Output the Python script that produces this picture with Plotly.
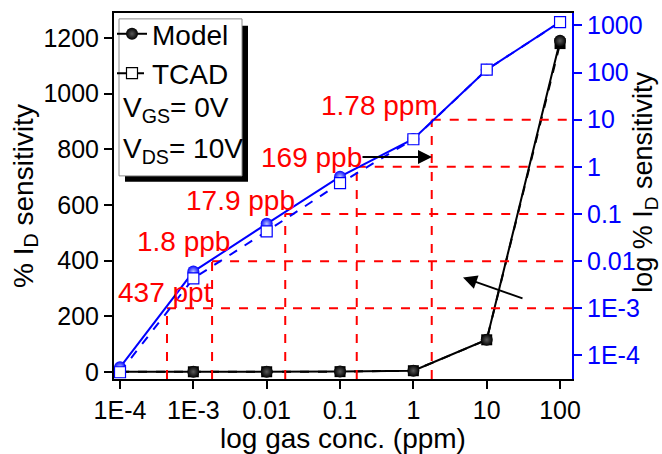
import plotly.graph_objects as go

# ---------------- data ----------------
conc = [1e-4, 1e-3, 1e-2, 1e-1, 1, 10, 100]                  # gas conc. (ppm)
model_sens = [5.6e-5, 6.0e-3, 0.062, 0.62, 3.9, 115, 1190]     # % ID sensitivity (Model)
tcad_sens = [4.4e-5, 4.3e-3, 0.043, 0.45, 3.85, 115, 1180]     # % ID sensitivity (TCAD)

lod_conc = [4.37e-4, 1.8e-3, 1.79e-2, 0.169, 1.78]            # detection limits (ppm)
lod_level = [1e-3, 1e-2, 0.1, 1, 10]                           # sensitivity level (log axis)
lod_labels = ["437 ppt", "1.8 ppb", "17.9 ppb", "169 ppb", "1.78 ppm"]

x_tickvals = [1e-4, 1e-3, 1e-2, 1e-1, 1, 10, 100]
x_ticktext = ["1E-4", "1E-3", "0.01", "0.1", "1", "10", "100"]
y_tickvals = [0, 200, 400, 600, 800, 1000, 1200]
y2_tickvals = [1e-4, 1e-3, 1e-2, 1e-1, 1, 10, 100, 1000]
y2_ticktext = ["1E-4", "1E-3", "0.01", "0.1", "1", "10", "100", "1000"]

# ---------------- layout constants ----------------
W, H = 662, 454
ML, MR, MT, MB = 114, 90, 9, 72
PW, PH = W - ML - MR, H - MT - MB
X_RANGE = [-4.082, 2.163]
Y_RANGE = [-26, 1290]
Y2_RANGE = [-4.5, 3.264]
FONT = "Liberation Sans, Arial, sans-serif"
RED = "#ff0000"
BLUE = "#0000ff"


def px(x):
    return (x - ML) / PW


def py(y):
    return (H - MB - y) / PH


fig = go.Figure()

# red dashed detection-limit guides (on log y axis)
hx, hy, vx, vy = [], [], [], []
for c, lv in zip(lod_conc, lod_level):
    hx += [c, 10 ** X_RANGE[1], None]
    hy += [lv, lv, None]
    vx += [c, c, None]
    vy += [10 ** Y2_RANGE[0], lv, None]
fig.add_trace(go.Scatter(x=hx + vx, y=hy + vy, mode="lines", yaxis="y2",
                         line=dict(color=RED, width=2, dash="dash"),
                         showlegend=False, hoverinfo="skip", connectgaps=False))

sphere_black = dict(symbol="circle", size=12, color="black",
                    gradient=dict(type="radial", color="#5a5a5a"),
                    line=dict(width=0))
sphere_blue = dict(symbol="circle", size=12, color=BLUE,
                   gradient=dict(type="radial", color="#b8c4ff"),
                   line=dict(width=0))
square_blue = dict(symbol="square", size=11, color="white",
                   line=dict(color=BLUE, width=1.2))
square_black = dict(symbol="square", size=11, color="white",
                    line=dict(color="black", width=1.2))

# linear axis (black)
fig.add_trace(go.Scatter(x=conc, y=tcad_sens, mode="lines+markers",
                         line=dict(color="black", width=2, dash="dash"),
                         marker=dict(symbol="square", size=11, color="black"),
                         showlegend=False))
fig.add_trace(go.Scatter(x=conc, y=model_sens, mode="lines+markers",
                         line=dict(color="black", width=2),
                         marker=sphere_black, showlegend=False))

# log axis (blue)
fig.add_trace(go.Scatter(x=conc, y=model_sens, mode="lines+markers", yaxis="y2",
                         line=dict(color=BLUE, width=2),
                         marker=sphere_blue, showlegend=False))
fig.add_trace(go.Scatter(x=conc, y=tcad_sens, mode="lines+markers", yaxis="y2",
                         line=dict(color=BLUE, width=2, dash="dash"),
                         marker=square_blue, showlegend=False))

# legend entries
fig.add_trace(go.Scatter(x=[None], y=[None], mode="lines+markers", name="Model",
                         line=dict(color="black", width=2), marker=sphere_black))
fig.add_trace(go.Scatter(x=[None], y=[None], mode="lines+markers", name="TCAD",
                         line=dict(color="black", width=2, dash="dash"),
                         marker=square_black))

annotations = []
# red labels (pixel centres)
label_pos = [(165, 294), (183, 242), (240, 200), (311, 156), (379, 103)]
for t, (lx, ly) in zip(lod_labels, label_pos):
    annotations.append(dict(text=t, x=px(lx), y=py(ly), xref="paper", yref="paper",
                            showarrow=False, xanchor="center", yanchor="middle",
                            font=dict(color=RED, size=28, family=FONT)))

# arrows
annotations.append(dict(text="", x=px(432), y=py(155.7), xref="paper", yref="paper",
                        ax=-71, ay=0, showarrow=True, arrowhead=2, arrowsize=1.4,
                        arrowwidth=2, arrowcolor="black"))
annotations.append(dict(text="", x=px(463), y=py(278.5), xref="paper", yref="paper",
                        ax=61, ay=21.5, showarrow=True, arrowhead=2, arrowsize=1.4,
                        arrowwidth=2, arrowcolor="black"))

# legend extra text
annotations.append(dict(text="V<sub>GS</sub>= 0V", x=px(121), y=py(107), xref="paper",
                        yref="paper", showarrow=False, xanchor="left", yanchor="middle",
                        font=dict(size=28, family=FONT, color="black")))
annotations.append(dict(text="V<sub>DS</sub>= 10V", x=px(121), y=py(149), xref="paper",
                        yref="paper", showarrow=False, xanchor="left", yanchor="middle",
                        font=dict(size=28, family=FONT, color="black")))

# right axis title
annotations.append(dict(text="log % I<sub>D</sub> sensitivity", x=px(645), y=py(182),
                        xref="paper", yref="paper", showarrow=False, textangle=-90,
                        xanchor="center", yanchor="middle",
                        font=dict(size=27, family=FONT, color="black")))

shapes = [
    dict(type="rect", xref="paper", yref="paper", x0=px(125), x1=px(248),
         y0=py(181), y1=py(22), fillcolor="black", line=dict(width=0), layer="above"),
    dict(type="rect", xref="paper", yref="paper", x0=px(119), x1=px(242),
         y0=py(175), y1=py(15), fillcolor="white",
         line=dict(color="#8c8c8c", width=1), layer="above"),
]

axis_common = dict(showgrid=False, zeroline=False, ticks="outside", ticklen=8,
                   tickwidth=2, linewidth=2, showline=True)

fig.update_layout(
    width=W, height=H,
    margin=dict(l=ML, r=MR, t=MT, b=MB, pad=0),
    paper_bgcolor="white", plot_bgcolor="white",
    font=dict(family=FONT, size=25, color="black"),
    xaxis=dict(type="log", range=X_RANGE, tickvals=x_tickvals, ticktext=x_ticktext,
               linecolor="black", tickcolor="black", mirror=True,
               tickfont=dict(size=25),
               title=dict(text="log gas conc. (ppm)", font=dict(size=28), standoff=1),
               **axis_common),
    yaxis=dict(range=Y_RANGE, tickvals=y_tickvals, linecolor="black", tickcolor="black",
               tickfont=dict(size=25),
               title=dict(text="% I<sub>D</sub> sensitivity", font=dict(size=28), standoff=2),
               **axis_common),
    yaxis2=dict(type="log", range=Y2_RANGE, overlaying="y", side="right",
                tickvals=y2_tickvals, ticktext=y2_ticktext,
                linecolor=BLUE, tickcolor=BLUE, tickfont=dict(size=25, color=BLUE),
                **axis_common),
    legend=dict(x=px(112), y=py(5), xanchor="left", yanchor="top",
                bgcolor="rgba(0,0,0,0)", borderwidth=0,
                font=dict(size=28, family=FONT), tracegroupgap=0),
    annotations=annotations,
    shapes=shapes,
    showlegend=True,
)

fig.write_html("out.html")
